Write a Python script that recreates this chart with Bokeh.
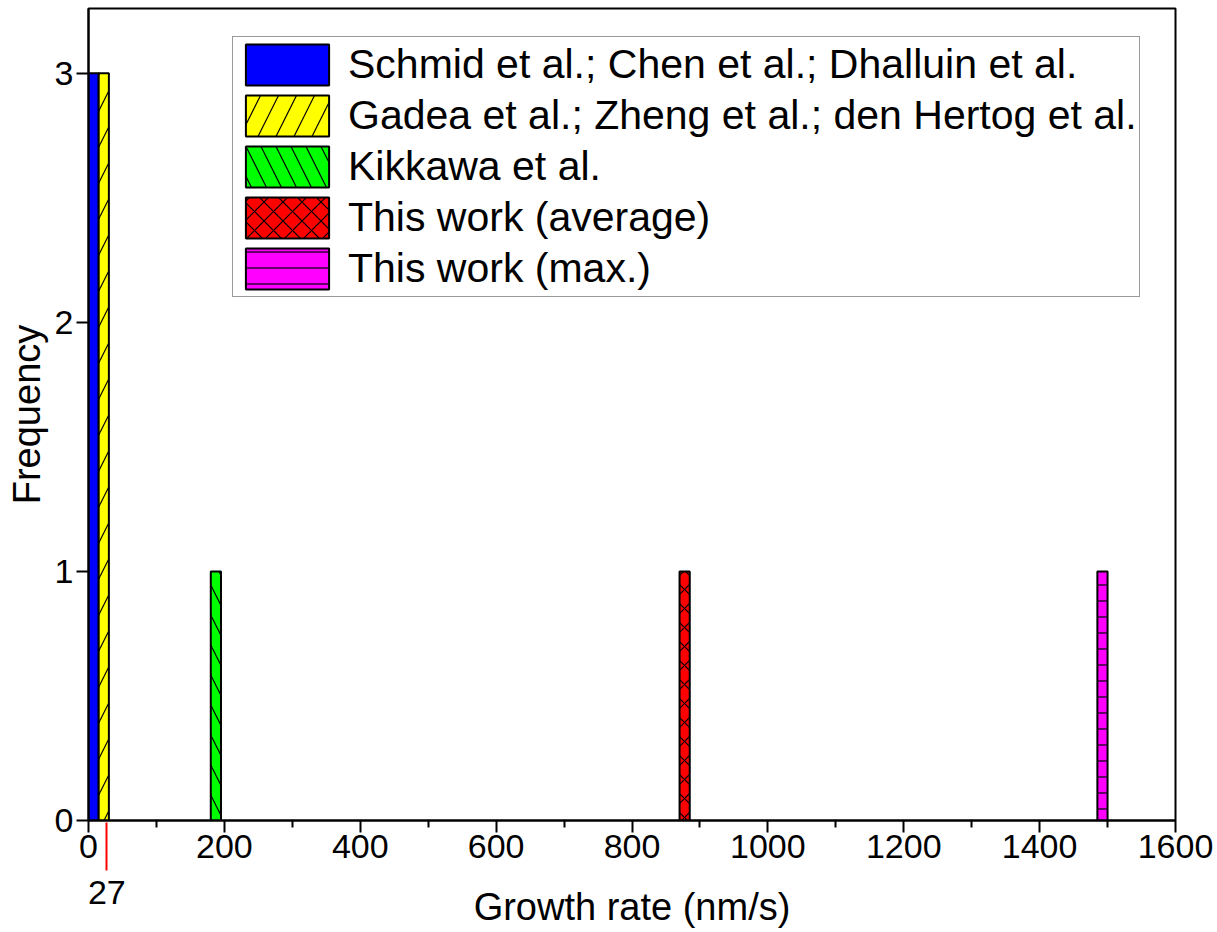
from bokeh.plotting import figure
from bokeh.models import (Range1d, Legend, LegendItem, FixedTicker, LinearAxis)
from bokeh.embed import file_html
from bokeh.resources import INLINE

# ---- data ----
bin_width = 15
bin_left = [0, 15, 180, 870, 1485]
counts = [3, 3, 1, 1, 1]
series_labels = [
    "Schmid et al.; Chen et al.; Dhalluin et al.",
    "Gadea et al.; Zheng et al.; den Hertog et al.",
    "Kikkawa et al.",
    "This work (average)",
    "This work (max.)",
]
colors = ["#0000FF", "#FFFF00", "#00FF00", "#FF0000", "#FF00FF"]
hatches = [" ", "/", "\\", "x", "-"]
hatch_scales = [12, 36, 30, 19, 16]
x_ticks = [0, 200, 400, 600, 800, 1000, 1200, 1400, 1600]
x_minor_ticks = [100, 300, 500, 700, 900, 1100, 1300, 1500]
y_ticks = [0, 1, 2, 3]
x_min, x_max = 0, 1600
y_min, y_max = 0, 3.26
marker_value = 27
x_title = "Growth rate (nm/s)"
y_title = "Frequency"

FONT = "Liberation Sans"

p = figure(width=1215, height=930, output_backend="svg", toolbar_location=None,
           x_range=Range1d(x_min, x_max), y_range=Range1d(y_min, y_max),
           x_axis_type=None,
           min_border_left=88, min_border_right=40, min_border_top=8,
           min_border_bottom=110)
p.grid.visible = False
p.background_fill_color = "white"
p.border_fill_color = "white"
p.outline_line_color = "black"
p.outline_line_width = 2

items = []
for i in range(len(bin_left)):
    r = p.quad(left=[bin_left[i]], right=[bin_left[i] + bin_width],
               bottom=[0], top=[counts[i]],
               fill_color=colors[i], line_color="black", line_width=2,
               hatch_pattern=hatches[i], hatch_color="black",
               hatch_scale=hatch_scales[i], hatch_weight=1.2)
    items.append(LegendItem(label=series_labels[i], renderers=[r]))

legend = Legend(items=items, location=(144, 523),
                glyph_width=104, glyph_height=51, spacing=0, padding=2,
                label_standoff=9,
                label_text_font=FONT, label_text_font_size="41px",
                label_text_color="black",
                border_line_color="#333333", border_line_width=1.5,
                background_fill_color="white", background_fill_alpha=1)
p.add_layout(legend)


def style(ax):
    ax.axis_line_width = 2
    ax.axis_line_color = "black"
    ax.major_tick_line_width = 2
    ax.minor_tick_line_width = 2
    ax.major_tick_in = 0
    ax.major_tick_out = 12
    ax.minor_tick_in = 0
    ax.minor_tick_out = 7
    ax.major_label_text_font = FONT
    ax.major_label_text_font_size = "34px"
    ax.major_label_text_color = "black"
    ax.axis_label_text_font = FONT
    ax.axis_label_text_font_size = "38px"
    ax.axis_label_text_font_style = "normal"
    ax.axis_label_text_color = "black"


# main x axis (nearest the frame)
xa = LinearAxis(ticker=FixedTicker(ticks=x_ticks, minor_ticks=x_minor_ticks))
style(xa)
xa.major_label_standoff = 2
p.add_layout(xa, "below")

# red marker axis stacked below: its tick reaches up to the frame
xr = LinearAxis(ticker=FixedTicker(ticks=[marker_value], minor_ticks=[]))
style(xr)
xr.axis_line_color = None
xr.major_tick_line_color = "red"
xr.major_tick_in = 38
xr.major_tick_out = 10
xr.minor_tick_out = 0
xr.major_label_standoff = 10
p.add_layout(xr, "below")

# x title as a centred label of a bare axis (overlapping the "27" row)
mid = (x_min + x_max) // 2
xl = LinearAxis(ticker=FixedTicker(ticks=[mid], minor_ticks=[]),
                major_label_overrides={mid: x_title})
style(xl)
xl.axis_line_color = None
xl.major_tick_line_color = None
xl.major_tick_out = 0
xl.minor_tick_out = 0
xl.major_label_text_font_size = "38px"
xl.major_label_standoff = -21
p.add_layout(xl, "below")

ya = p.yaxis[0]
ya.ticker = FixedTicker(ticks=y_ticks, minor_ticks=[])
style(ya)
ya.axis_label = y_title
ya.major_label_standoff = 3
ya.axis_label_standoff = 4

open("out.html", "w").write(file_html(p, INLINE))
